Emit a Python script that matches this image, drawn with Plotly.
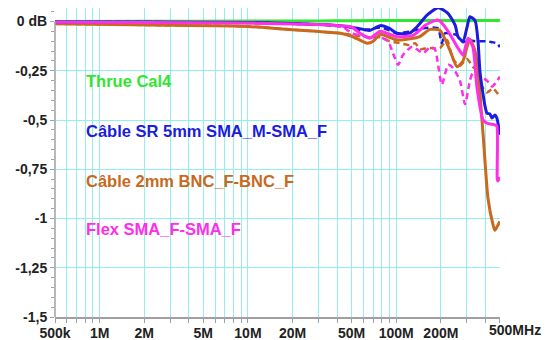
import plotly.graph_objects as go
import numpy as np

# ---------------- data (frequency in MHz, level in dB) ----------------
green_f = [0.5, 2, 10, 30, 50, 100, 200, 300, 400, 500]
green_db = [0.0, 0.001, 0.002, 0.003, 0.004, 0.005, 0.005, 0.004, 0.005, 0.005]

blue_f = [0.5, 2, 10, 17, 29, 42, 50, 60, 66, 78, 90, 101, 124, 135, 145, 160, 192, 224, 250,
          261, 282, 300, 314, 340, 356, 367, 385, 397, 409, 429, 442, 463, 477, 500]
blue_db = [-0.002, -0.003, -0.005, -0.009, -0.015, -0.021, -0.030, -0.040, -0.046, -0.021, -0.035,
           -0.060, -0.058, -0.035, -0.009, 0.030, 0.070, 0.040, -0.020, -0.077, -0.100, -0.030,
           0.024, 0.005, -0.100, -0.255, -0.370, -0.430, -0.465, -0.470, -0.490, -0.475, -0.490, -0.575]

blue2_f = [0.5, 2, 10, 29, 42, 50, 57, 66, 78, 90, 101, 124, 152, 177, 192, 203, 213, 230, 257,
           282, 300, 340, 409, 442, 477, 500]
blue2_db = [-0.002, -0.003, -0.005, -0.015, -0.021, -0.030, -0.045, -0.040, -0.030, -0.045, -0.060,
            -0.050, -0.035, -0.030, -0.035, -0.110, -0.060, -0.060, -0.070, -0.105, -0.095, -0.100,
            -0.100, -0.105, -0.110, -0.130]

orange_f = [0.5, 2.2, 10, 17, 29, 42, 50, 57, 63.5, 70, 78, 90, 101, 124, 145, 169, 197, 230, 257,
            282, 300, 314, 340, 356, 385, 416, 449, 463, 480, 500]
orange_db = [-0.012, -0.018, -0.025, -0.038, -0.050, -0.060, -0.075, -0.095, -0.110, -0.100, -0.065,
             -0.080, -0.094, -0.088, -0.075, -0.040, -0.045, -0.145, -0.230, -0.200, -0.130, -0.090,
             -0.150, -0.250, -0.570, -0.900, -1.030, -1.060, -1.040, -1.015]

orange2_f = [0.5, 2.2, 10, 29, 42, 50, 57, 66, 78, 90, 106, 124, 134, 145, 164, 197, 220, 241, 269,
             300, 329, 356, 367, 409, 449, 500]
orange2_db = [-0.012, -0.018, -0.025, -0.050, -0.060, -0.068, -0.075, -0.080, -0.080, -0.100, -0.110,
              -0.120, -0.110, -0.140, -0.135, -0.135, -0.094, -0.190, -0.225, -0.190, -0.230, -0.255,
              -0.310, -0.360, -0.340, -0.380]

magenta_f = [0.5, 2, 10, 29, 42, 50, 57, 66, 78, 90, 101, 130, 145, 156, 188, 197, 224, 261, 282,
             305, 329, 351, 385, 409, 463, 477, 480, 485, 500]
magenta_db = [-0.004, -0.005, -0.008, -0.015, -0.021, -0.028, -0.060, -0.085, -0.050, -0.065,
              -0.077, -0.070, -0.043, -0.020, 0.008, 0.003, -0.050, -0.135, -0.170, -0.085, -0.130,
              -0.340, -0.500, -0.516, -0.525, -0.530, -0.800, -0.810, -0.790]

magenta2_f = [0.5, 2, 10, 29, 44, 50, 57, 66, 78, 88, 95, 103, 111, 128, 152, 169, 182, 203, 224,
              241, 269, 291, 314, 329, 356, 409, 442, 480, 500]
magenta2_db = [-0.004, -0.005, -0.008, -0.015, -0.030, -0.060, -0.070, -0.080, -0.080, -0.100,
               -0.160, -0.220, -0.170, -0.128, -0.160, -0.130, -0.140, -0.320, -0.220, -0.235,
               -0.300, -0.420, -0.300, -0.260, -0.270, -0.300, -0.330, -0.300, -0.280]

labels = ["Thrue Cal4", "Câble SR 5mm SMA_M-SMA_F", "Câble 2mm BNC_F-BNC_F", "Flex SMA_F-SMA_F"]
label_db = [-0.30, -0.555, -0.808, -1.055]

x_tick_vals = [0.5, 1, 2, 5, 10, 20, 50, 100, 200, 500]
x_tick_text = ["500k", "1M", "2M", "5M", "10M", "20M", "50M", "100M", "200M", "500MHz"]
y_tick_vals = [0, -0.25, -0.5, -0.75, -1, -1.25, -1.5]
y_tick_text = ["0 dB", "-0,25", "-0,5", "-0,75", "-1", "-1,25", "-1,5"]

# ---------------- styling ----------------
GREEN = "#30e630"
BLUE = "#1c1ce0"
ORANGE = "#c8691e"
MAGENTA = "#ff2ee8"
GRID = "#93eeee"
AX = "#a0a0a0"
FONT = "Liberation Sans, Arial, sans-serif"
YTOP = 0.0685  # top of plotting range (curves peak above 0 dB)

fig = go.Figure()

def add(f, db, color, width, dash=None):
    fig.add_trace(go.Scatter(x=f, y=db, mode="lines", line=dict(color=color, width=width, dash=dash,
                                                                   shape="spline", smoothing=0.6),
                             hoverinfo="skip", showlegend=False))

add(green_f, green_db, GREEN, 3)
add(orange2_f, orange2_db, ORANGE, 2.5, "6px,4px")
add(magenta2_f, magenta2_db, MAGENTA, 2.5, "6px,4px")
add(blue2_f, blue2_db, BLUE, 2.5, "6px,4px")
add(orange_f, orange_db, ORANGE, 3)
add(blue_f, blue_db, BLUE, 3)
add(magenta_f, magenta_db, MAGENTA, 3)

# grid positions: every 1..9 multiple inside the range
grid_vals = []
for d in [0.1, 1, 10, 100]:
    for m in range(1, 10):
        v = round(m * d, 6)
        if 0.5 <= v <= 500:
            grid_vals.append(v)
tick_text_map = dict(zip(x_tick_vals, x_tick_text))
grid_text = ["" if (v == 500) else tick_text_map.get(v, "") for v in grid_vals]

fig.update_xaxes(type="log", range=[np.log10(0.5), np.log10(500) + 0.0008],
                 tickmode="array", tickvals=grid_vals, ticktext=grid_text,
                 showgrid=True, gridcolor=GRID, gridwidth=1,
                 ticks="outside", ticklen=4, tickcolor=AX, ticklabelstandoff=-2,
                 showline=True, linecolor=AX, linewidth=1.5, automargin=False,
                 tickfont=dict(family=FONT, size=14, color="#222222", weight="bold"),
                 zeroline=False)
fig.update_yaxes(range=[-1.5, YTOP], tickmode="array", tickvals=y_tick_vals, ticktext=y_tick_text,
                 showgrid=True, gridcolor=GRID, gridwidth=1,
                 ticks="outside", ticklen=4, tickcolor=AX, automargin=False,
                 minor=dict(dtick=0.05, tick0=0, ticks="outside", ticklen=3, tickcolor=AX, showgrid=False),
                 showline=False, zeroline=False,
                 tickfont=dict(family=FONT, size=14, color="#222222", weight="bold"))

# hide grid above 0 dB, draw left axis line up to 0 dB
fig.add_shape(type="rect", xref="paper", yref="y", x0=0.002, x1=1.01, y0=0.0, y1=YTOP,
              fillcolor="white", line_width=0, layer="between")
fig.add_shape(type="line", xref="paper", yref="y", x0=0, x1=0, y0=-1.5, y1=0.0,
              line=dict(color=AX, width=1.5), layer="above")

# 500MHz label (anchored at its "500")
fig.add_annotation(x=np.log10(500), y=0, xref="x", yref="paper", text="500MHz", showarrow=False,
                   xanchor="left", yanchor="top", xshift=-13, yshift=-3,
                   font=dict(family=FONT, size=14, color="#222222", weight="bold"))

for txt, yv, col in zip(labels, label_db, [GREEN, BLUE, ORANGE, MAGENTA]):
    fig.add_annotation(x=0.066, xref="paper", y=yv, yref="y", text=txt, showarrow=False,
                       xanchor="left", yanchor="middle",
                       font=dict(family=FONT, size=16.5, color=col, weight="bold"))

# the page body adds an 8px offset, so the figure is sized/margined to compensate
fig.update_layout(width=546, height=332, margin=dict(l=47, r=54, t=0, b=23),
                  paper_bgcolor="white", plot_bgcolor="white", showlegend=False)

fig.write_html("out.html")
